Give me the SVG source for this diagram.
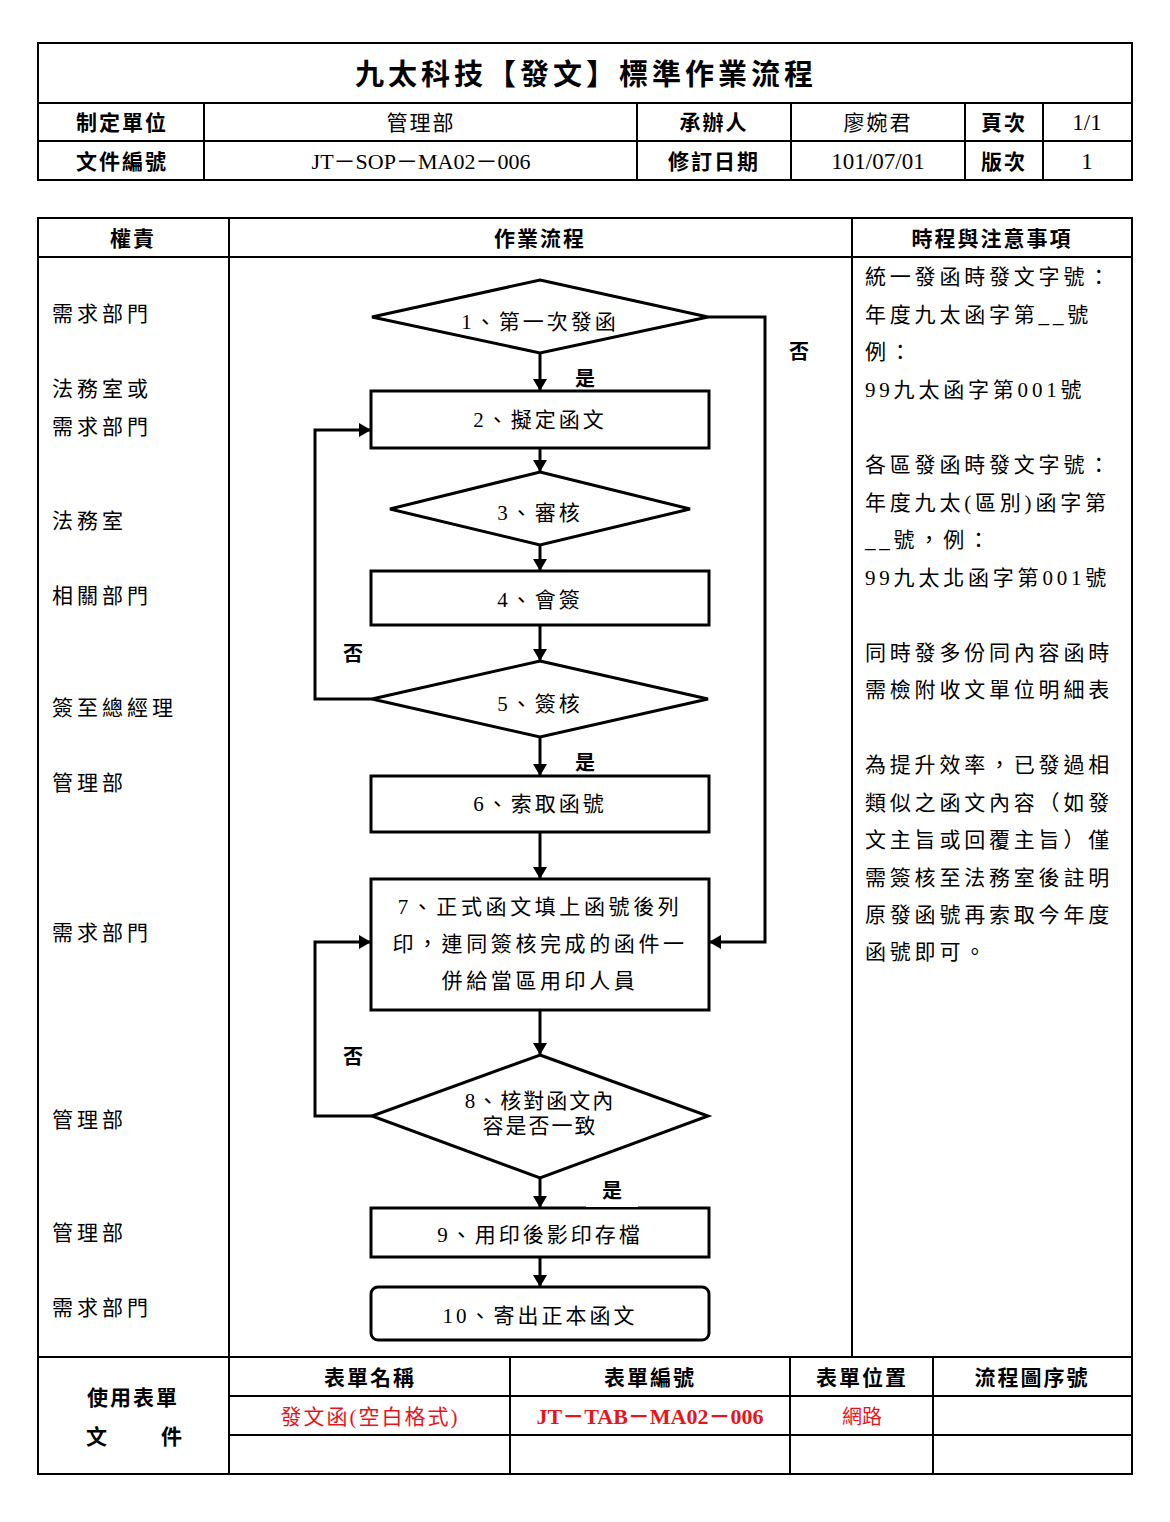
<svg xmlns="http://www.w3.org/2000/svg" width="1170" height="1522" viewBox="0 0 1170 1522">
<style>
.t{font-family:"Liberation Serif","Noto Sans CJK TC",serif;fill:#000;}
.b{font-family:"Noto Sans CJK TC","Liberation Sans",sans-serif;font-weight:bold;fill:#000;}
.c{text-anchor:middle;}
.n{font-size:21px;letter-spacing:3px;}
.lbl{font-size:21px;letter-spacing:4px;}
.nt{font-size:21px;letter-spacing:3.8px;}
.h{font-size:21px;letter-spacing:2px;}
.red{fill:#e8141c;}
.grid{stroke:#000;stroke-width:2;fill:none;}
.shape{stroke:#000;stroke-width:3;fill:#fff;}
.con{stroke:#000;stroke-width:3;fill:none;}
</style>
<defs>
<marker id="ah" markerUnits="userSpaceOnUse" markerWidth="12" markerHeight="14" viewBox="0 0 12 14" refX="12" refY="7" orient="auto">
<path d="M0,0 L12,7 L0,14 z" fill="#000"/>
</marker>
</defs>
<rect width="1170" height="1522" fill="#fff"/>

<!-- Header table -->
<g id="header">
<rect class="grid" x="38" y="43" width="1094" height="137"/>
<line class="grid" x1="38" y1="103" x2="1132" y2="103"/>
<line class="grid" x1="38" y1="141" x2="1132" y2="141"/>
<line class="grid" x1="204" y1="103" x2="204" y2="180"/>
<line class="grid" x1="637" y1="103" x2="637" y2="180"/>
<line class="grid" x1="791" y1="103" x2="791" y2="180"/>
<line class="grid" x1="965" y1="103" x2="965" y2="180"/>
<line class="grid" x1="1043" y1="103" x2="1043" y2="180"/>
<text class="b c" x="586" y="85" font-size="29" letter-spacing="4">九太科技【發文】標準作業流程</text>
<text class="b c h" x="122" y="130">制定單位</text>
<text class="t c h" x="421" y="130">管理部</text>
<text class="b c h" x="714" y="130">承辦人</text>
<text class="t c h" x="878" y="130">廖婉君</text>
<text class="b c h" x="1004" y="130">頁次</text>
<text class="t c" x="1087" y="130" font-size="23">1/1</text>
<text class="b c h" x="122" y="169">文件編號</text>
<text class="t c" x="421" y="169" font-size="22">JT－SOP－MA02－006</text>
<text class="b c h" x="714" y="169">修訂日期</text>
<text class="t c" x="878" y="169" font-size="23">101/07/01</text>
<text class="b c h" x="1004" y="169">版次</text>
<text class="t c" x="1087" y="169" font-size="23">1</text>
</g>

<!-- Main table -->
<g id="main-table">
<rect class="grid" x="38" y="218" width="1094" height="1256"/>
<line class="grid" x1="38" y1="257" x2="1132" y2="257"/>
<line class="grid" x1="229" y1="218" x2="229" y2="1474"/>
<line class="grid" x1="852" y1="218" x2="852" y2="1357"/>
<line class="grid" x1="38" y1="1357" x2="1132" y2="1357"/>
<line class="grid" x1="229" y1="1396" x2="1132" y2="1396"/>
<line class="grid" x1="229" y1="1435" x2="1132" y2="1435"/>
<line class="grid" x1="510" y1="1357" x2="510" y2="1474"/>
<line class="grid" x1="790" y1="1357" x2="790" y2="1474"/>
<line class="grid" x1="933" y1="1357" x2="933" y2="1474"/>
<text class="b c h" x="133" y="246">權責</text>
<text class="b c h" x="540" y="246">作業流程</text>
<text class="b c h" x="992" y="246">時程與注意事項</text>
</g>

<!-- Responsibility column -->
<g id="roles">
<text class="t lbl" x="52" y="321">需求部門</text>
<text class="t lbl" x="52" y="396">法務室或</text>
<text class="t lbl" x="52" y="434">需求部門</text>
<text class="t lbl" x="52" y="528">法務室</text>
<text class="t lbl" x="52" y="603">相關部門</text>
<text class="t lbl" x="52" y="715">簽至總經理</text>
<text class="t lbl" x="52" y="790">管理部</text>
<text class="t lbl" x="52" y="940">需求部門</text>
<text class="t lbl" x="52" y="1127">管理部</text>
<text class="t lbl" x="52" y="1240">管理部</text>
<text class="t lbl" x="52" y="1315">需求部門</text>
</g>

<!-- Notes column -->
<g id="notes">
<text class="t nt" x="865" y="284">統一發函時發文字號：</text>
<text class="t nt" x="865" y="322">年度九太函字第__號</text>
<text class="t nt" x="865" y="359">例：</text>
<text class="t nt" x="865" y="397">99九太函字第001號</text>
<text class="t nt" x="865" y="472">各區發函時發文字號：</text>
<text class="t nt" x="865" y="510">年度九太(區別)函字第</text>
<text class="t nt" x="865" y="547">__號，例：</text>
<text class="t nt" x="865" y="585">99九太北函字第001號</text>
<text class="t nt" x="865" y="660">同時發多份同內容函時</text>
<text class="t nt" x="865" y="697">需檢附收文單位明細表</text>
<text class="t nt" x="865" y="772">為提升效率，已發過相</text>
<text class="t nt" x="865" y="810">類似之函文內容（如發</text>
<text class="t nt" x="865" y="847">文主旨或回覆主旨）僅</text>
<text class="t nt" x="865" y="885">需簽核至法務室後註明</text>
<text class="t nt" x="865" y="922">原發函號再索取今年度</text>
<text class="t nt" x="865" y="959">函號即可。</text>
</g>

<!-- Connectors -->
<g id="connectors">
<line class="con" x1="540" y1="353" x2="540" y2="391" marker-end="url(#ah)"/>
<line class="con" x1="540" y1="448" x2="540" y2="472" marker-end="url(#ah)"/>
<line class="con" x1="540" y1="545" x2="540" y2="571" marker-end="url(#ah)"/>
<line class="con" x1="540" y1="625" x2="540" y2="661" marker-end="url(#ah)"/>
<line class="con" x1="540" y1="737" x2="540" y2="776" marker-end="url(#ah)"/>
<line class="con" x1="540" y1="832" x2="540" y2="879" marker-end="url(#ah)"/>
<line class="con" x1="540" y1="1010" x2="540" y2="1055" marker-end="url(#ah)"/>
<line class="con" x1="540" y1="1178" x2="540" y2="1208" marker-end="url(#ah)"/>
<line class="con" x1="540" y1="1257" x2="540" y2="1287" marker-end="url(#ah)"/>
<polyline class="con" points="708,317 765,317 765,942 709,942" marker-end="url(#ah)"/>
<polyline class="con" points="372,699 315,699 315,430 371,430" marker-end="url(#ah)"/>
<polyline class="con" points="372,1116 315,1116 315,942 371,942" marker-end="url(#ah)"/>
<text class="b" x="789" y="359" font-size="20">否</text>
<text class="b" x="343" y="661" font-size="20">否</text>
<text class="b" x="343" y="1064" font-size="20">否</text>
<text class="b" x="575" y="386" font-size="20">是</text>
<text class="b" x="575" y="770" font-size="20">是</text>
</g>

<!-- Nodes -->
<g id="n1">
<polygon class="shape" points="540,280 708,317 540,353 372,317"/>
<text class="t c n" x="540" y="329">1、第一次發函</text>
</g>
<g id="n2">
<rect class="shape" x="371" y="391" width="338" height="57"/>
<text class="t c n" x="540" y="427">2、擬定函文</text>
</g>
<g id="n3">
<polygon class="shape" points="540,472 690,509 540,545 390,509"/>
<text class="t c n" x="540" y="520">3、審核</text>
</g>
<g id="n4">
<rect class="shape" x="371" y="571" width="338" height="54"/>
<text class="t c n" x="540" y="607">4、會簽</text>
</g>
<g id="n5">
<polygon class="shape" points="540,661 708,699 540,737 372,699"/>
<text class="t c n" x="540" y="711">5、簽核</text>
</g>
<g id="n6">
<rect class="shape" x="371" y="776" width="338" height="56"/>
<text class="t c n" x="540" y="811">6、索取函號</text>
</g>
<g id="n7">
<rect class="shape" x="371" y="879" width="338" height="131"/>
<text class="t c" x="540" y="914" font-size="21" letter-spacing="3.6">7、正式函文填上函號後列</text>
<text class="t c" x="540" y="951" font-size="21" letter-spacing="3.6">印，連同簽核完成的函件一</text>
<text class="t c" x="540" y="988" font-size="21" letter-spacing="3.6">併給當區用印人員</text>
</g>
<g id="n8">
<polygon class="shape" points="540,1055 708,1116 540,1178 372,1116"/>
<text class="t c" x="540" y="1108" font-size="21" letter-spacing="2">8、核對函文內</text>
<text class="t c" x="540" y="1133" font-size="21" letter-spacing="2">容是否一致</text>
</g>
<g id="n9">
<rect class="shape" x="371" y="1208" width="338" height="49"/>
<text class="t c n" x="540" y="1242">9、用印後影印存檔</text>
</g>
<rect x="586" y="1172" width="52" height="35" fill="#fff"/>
<text class="b" x="602" y="1198" font-size="20">是</text>
<g id="n10">
<rect class="shape" x="371" y="1287" width="338" height="53" rx="7"/>
<text class="t c n" x="540" y="1323">10、寄出正本函文</text>
</g>

<!-- Bottom forms table -->
<g id="forms">
<text class="b c h" x="133" y="1405">使用表單</text>
<text class="b h" x="86" y="1444">文</text>
<text class="b h" x="161" y="1444">件</text>
<text class="b c h" x="370" y="1385">表單名稱</text>
<text class="b c h" x="650" y="1385">表單編號</text>
<text class="b c h" x="862" y="1385">表單位置</text>
<text class="b c h" x="1032" y="1385">流程圖序號</text>
<text class="t c red" x="370" y="1424" font-size="21" letter-spacing="2">發文函(空白格式)</text>
<text class="t c red" x="650" y="1424" font-size="22" font-weight="bold">JT－TAB－MA02－006</text>
<text class="t c red" x="862" y="1424" font-size="20">網路</text>
</g>
</svg>
